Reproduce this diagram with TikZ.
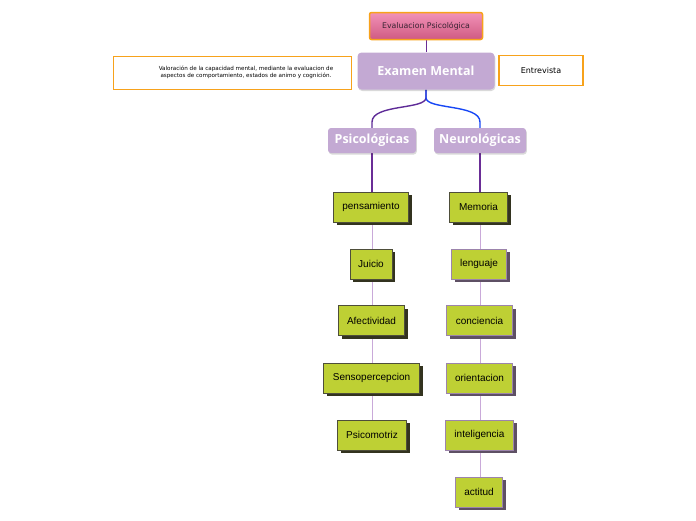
\documentclass[tikz,border=0pt]{standalone}
\usepackage{fontspec}
\setmainfont{Liberation Sans}
\newfontfamily\verd{DejaVu Sans}
\newfontfamily\titlef{Open Sans}
\usetikzlibrary{shadows,backgrounds}
\definecolor{orangeb}{HTML}{F7A21B}
\definecolor{pinktop}{HTML}{F292B8}
\definecolor{pinkbot}{HTML}{CF5A82}
\definecolor{lila}{HTML}{C3A9D3}
\definecolor{greenf}{HTML}{BED034}
\definecolor{darkb}{HTML}{4E4E3A}
\definecolor{darksh}{HTML}{33331F}
\definecolor{purpb}{HTML}{9C84AC}
\definecolor{purpsh}{HTML}{5E5064}
\definecolor{linkdark}{HTML}{6A2D96}
\definecolor{linklight}{HTML}{C9A9D9}
\definecolor{curvep}{HTML}{5E2B97}
\definecolor{curveb}{HTML}{1747F5}
\definecolor{evaltext}{HTML}{3A2434}
\tikzset{
  gbox/.style={draw=darkb, line width=0.8pt, fill=greenf, minimum height=30pt, inner sep=0pt,
    font=\fontsize{10}{12}\selectfont,
    drop shadow={shadow xshift=3pt, shadow yshift=-3pt, fill=darksh, opacity=1}},
  pbox/.style={gbox, draw=purpb,
    drop shadow={shadow xshift=3pt, shadow yshift=-3pt, fill=purpsh, opacity=1}},
  lbox/.style={fill=lila, rounded corners=3pt, inner sep=0pt, text=white,
    drop shadow={shadow xshift=0.8pt, shadow yshift=-1.5pt, fill=black, opacity=0.15}},
  obox/.style={draw=orangeb, line width=1.5pt, fill=white, inner sep=0pt},
  dlink/.style={draw=linkdark, line width=1.3pt},
  llink/.style={draw=linklight, line width=0.9pt},
}
\begin{document}
\begin{tikzpicture}[x=1pt,y=-1pt]
\useasboundingbox (0,0) rectangle (696,520);
% top
\node[obox, rounded corners=2pt, top color=pinktop, bottom color=pinkbot, minimum width=113pt, minimum height=27pt,
  font=\verd\fontsize{7.8}{9}\selectfont, text=evaltext] (eval) at (426,26) {Evaluacion Psicológica};
\node[lbox, minimum width=137pt, minimum height=37pt, rounded corners=4pt,
  font=\titlef\bfseries\fontsize{12.5}{14}\selectfont] (exam) at (426,71) {Examen Mental};
\node[obox, minimum width=238pt, minimum height=33pt] (desc) at (232.5,73) {};
\node[font=\verd\fontsize{5.6}{7}\selectfont, align=center, inner sep=0pt] (desctext) at (246,72.5)
  {Valoración de la capacidad mental, mediante la evaluacion de\\ aspectos de comportamiento, estados de animo y cognición.};
\node[obox, minimum width=84pt, minimum height=30pt, font=\verd\fontsize{8}{10}\selectfont] (entre) at (541,70.5) {Entrevista};
\node[lbox, minimum width=88pt, minimum height=25pt, font=\titlef\bfseries\fontsize{12.5}{14}\selectfont] (psi) at (372,140.5) {Psicológicas};
\node[lbox, minimum width=92pt, minimum height=25pt, font=\titlef\bfseries\fontsize{12.5}{14}\selectfont] (neu) at (480,140.5) {Neurológicas};
% left column
\node[gbox, minimum width=75pt] (pens) at (371,207) {pensamiento};
\node[gbox, minimum width=42pt] (jui) at (371,264) {Juicio};
\node[gbox, minimum width=66pt] (afe) at (371.5,320.5) {Afectividad};
\node[gbox, minimum width=96pt] (sen) at (371.5,378) {Sensopercepcion};
\node[gbox, minimum width=69pt] (psm) at (372,435) {Psicomotriz};
% right column
\node[gbox, minimum width=58pt] (mem) at (478.5,207) {Memoria};
\node[pbox, minimum width=55pt] (len) at (479,264) {lenguaje};
\node[pbox, minimum width=66pt] (con) at (479.5,320.5) {conciencia};
\node[pbox, minimum width=66pt] (ori) at (479.5,378) {orientacion};
\node[pbox, minimum width=68pt] (int) at (479.5,435) {inteligencia};
\node[pbox, minimum width=47pt] (act) at (479,492) {actitud};
\begin{scope}[on background layer]
\draw[draw=linkdark, line width=0.6pt] (eval.south) -- (exam.north);
\draw[draw=curvep, line width=1.4pt] (exam.south) -- ++(0,8) .. controls ++(0,12) and (372,104) .. (372,122) -- (psi.north);
\draw[draw=curveb, line width=1.4pt] (exam.south) -- ++(0,8) .. controls ++(0,12) and (480,104) .. (480,122) -- (neu.north);
\draw[dlink] (psi.south) -- (psi.south |- pens.north);
\draw[dlink] (neu.south) -- (neu.south |- mem.north);
\draw[llink] (psi.south |- pens.south) -- (psi.south |- jui.north);
\draw[llink] (psi.south |- jui.south) -- (psi.south |- afe.north);
\draw[llink] (psi.south |- afe.south) -- (psi.south |- sen.north);
\draw[llink] (psi.south |- sen.south) -- (psi.south |- psm.north);
\draw[llink] (neu.south |- mem.south) -- (neu.south |- len.north);
\draw[llink] (neu.south |- len.south) -- (neu.south |- con.north);
\draw[llink] (neu.south |- con.south) -- (neu.south |- ori.north);
\draw[llink] (neu.south |- ori.south) -- (neu.south |- int.north);
\draw[llink] (neu.south |- int.south) -- (neu.south |- act.north);
\end{scope}
\end{tikzpicture}
\end{document}
